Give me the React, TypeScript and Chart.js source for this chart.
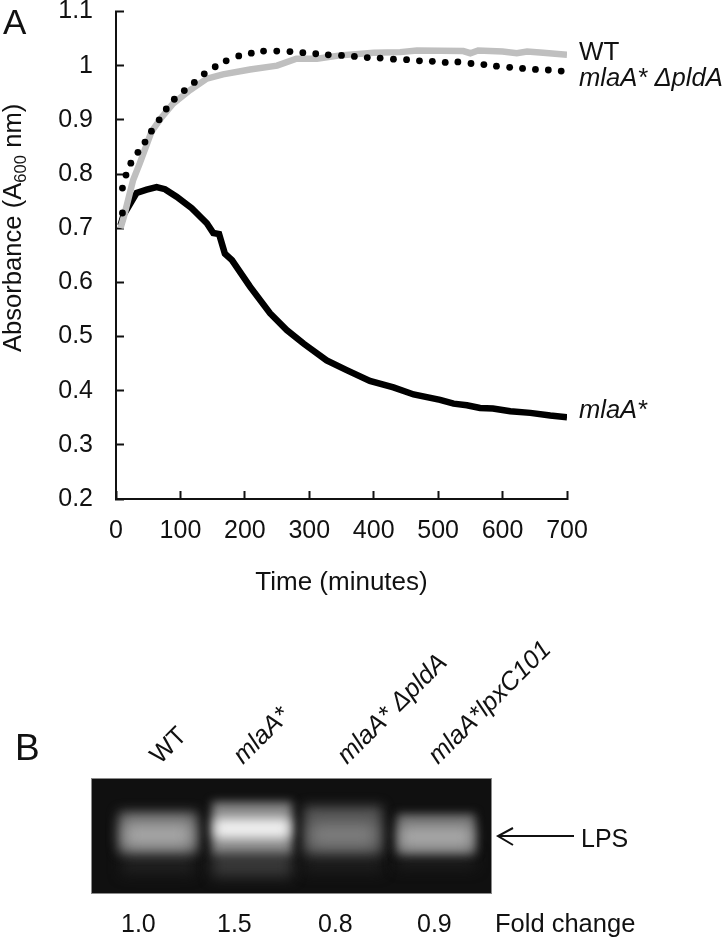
import React, { useEffect, useRef } from "react";
import { Chart, registerables } from "chart.js";

Chart.register(...registerables);

const FONT = '"Liberation Sans", Arial, sans-serif';

const wtTimes = [7, 12, 26.6, 37, 55, 71, 88.5, 115, 141, 166, 208, 250, 280, 312, 348, 400, 441, 467, 539, 550, 562, 600, 622, 638, 663, 700];
const wtValues = [0.7, 0.72, 0.789, 0.82, 0.878, 0.905, 0.93, 0.955, 0.976, 0.984, 0.993, 1.0, 1.013, 1.013, 1.019, 1.024, 1.025, 1.028, 1.027, 1.023, 1.028, 1.026, 1.023, 1.026, 1.024, 1.02];

const mlaTimes = [7, 12, 19, 32, 47.6, 63, 76, 94, 117.5, 141, 151, 160, 169, 180, 208, 239, 265, 291, 327, 358, 394, 430.6, 462, 503, 524, 544.6, 565, 585, 612, 643, 674, 700];
const mlaValues = [0.705, 0.725, 0.739, 0.765, 0.771, 0.776, 0.772, 0.758, 0.737, 0.709, 0.691, 0.689, 0.653, 0.641, 0.592, 0.543, 0.512, 0.487, 0.456, 0.438, 0.418, 0.406, 0.393, 0.383, 0.376, 0.373, 0.368, 0.367, 0.362, 0.359, 0.354, 0.351];

const pldTimes = [10, 10, 15.5, 23, 34, 45, 55, 67, 78, 90.5, 106, 121.6, 137, 154, 171, 190.5, 210, 229, 249.5, 270, 290, 310, 329.5, 350, 370, 390, 410, 430.6, 451, 471, 491, 511, 530.6, 551, 571, 590.5, 611, 631, 651, 671, 691];
const pldValues = [0.728, 0.774, 0.798, 0.82, 0.84, 0.859, 0.879, 0.9, 0.92, 0.938, 0.954, 0.969, 0.985, 0.998, 1.009, 1.018, 1.023, 1.027, 1.027, 1.026, 1.024, 1.022, 1.02, 1.019, 1.017, 1.015, 1.014, 1.012, 1.011, 1.009, 1.008, 1.006, 1.007, 1.004, 1.002, 0.999, 0.997, 0.995, 0.993, 0.992, 0.99];

const laneNames = ["WT", "mlaA*", "mlaA* ΔpldA", "mlaA*lpxC101"];
const foldChanges = ["1.0", "1.5", "0.8", "0.9"];

type Run = { t: string; i?: boolean; sub?: boolean };

function drawRuns(ctx: CanvasRenderingContext2D, x: number, y: number, runs: Run[], size: number, angle = 0) {
  ctx.save();
  ctx.translate(x, y);
  ctx.rotate(angle);
  ctx.fillStyle = "#111";
  ctx.textBaseline = "alphabetic";
  ctx.textAlign = "left";
  let cx = 0;
  for (const r of runs) {
    const s = r.sub ? size * 0.65 : size;
    ctx.font = `${r.i ? "italic " : ""}${s}px ${FONT}`;
    ctx.fillText(r.t, cx, r.sub ? size * 0.2 : 0);
    cx += ctx.measureText(r.t).width;
  }
  ctx.restore();
}

function blurRect(ctx: CanvasRenderingContext2D, x: number, y: number, w: number, h: number, c: string, blur: number) {
  ctx.filter = `blur(${blur}px)`;
  ctx.fillStyle = c;
  ctx.fillRect(x, y, w, h);
}

const gelPlugin = {
  id: "gel",
  afterDraw(chart: any) {
    const ctx: CanvasRenderingContext2D = chart.ctx;
    ctx.save();
    ctx.beginPath();
    ctx.rect(92, 779, 399, 114);
    ctx.clip();
    ctx.fillStyle = "#101010";
    ctx.fillRect(92, 779, 399, 114);
    // smear below the bands
    blurRect(ctx, 122, 852, 72, 22, "#202020", 7);
    blurRect(ctx, 212, 850, 80, 27, "#383838", 7);
    blurRect(ctx, 304, 852, 78, 20, "#1e1e1e", 7);
    blurRect(ctx, 397, 852, 78, 16, "#1e1e1e", 7);
    // lane 1
    blurRect(ctx, 119, 812, 78, 41, "#6c6c6c", 6);
    blurRect(ctx, 124, 823, 68, 24, "#a8a8a8", 8);
    // lane 2
    blurRect(ctx, 212, 802, 80, 52, "#858585", 5);
    blurRect(ctx, 214, 818, 76, 21, "#f0f0f0", 6);
    // lane 3
    blurRect(ctx, 304, 806, 78, 48, "#525252", 6);
    blurRect(ctx, 310, 823, 66, 24, "#7e7e7e", 8);
    // lane 4
    blurRect(ctx, 397, 814, 78, 40, "#6c6c6c", 5);
    blurRect(ctx, 400, 825, 72, 24, "#a6a6a6", 7);
    ctx.filter = "none";
    ctx.restore();

    ctx.strokeStyle = "#8a8a8a";
    ctx.lineWidth = 1;
    ctx.strokeRect(91.5, 778.5, 400, 115);

    const s = 25.5;
    const r45 = -Math.PI / 4;
    drawRuns(ctx, 3, 33.5, [{ t: "A" }], 35);
    drawRuns(ctx, 15, 760, [{ t: "B" }], 37);
    drawRuns(ctx, 20.7, 352, [{ t: "Absorbance (A" }, { t: "600", sub: true }, { t: " nm)" }], 25.6, -Math.PI / 2);
    drawRuns(ctx, 579, 60, [{ t: "WT" }], 26);
    drawRuns(ctx, 579, 86, [{ t: "mlaA* ΔpldA", i: true }], 25.6);
    drawRuns(ctx, 579, 418, [{ t: "mlaA*", i: true }], s);
    drawRuns(ctx, 160, 765, [{ t: laneNames[0] }], s, r45);
    drawRuns(ctx, 243, 765, [{ t: laneNames[1], i: true }], s, r45);
    drawRuns(ctx, 347, 765, [{ t: laneNames[2], i: true }], s, r45);
    drawRuns(ctx, 438, 765, [{ t: laneNames[3], i: true }], s, r45);
    const fx = [121, 217, 318, 417];
    foldChanges.forEach((f, i) => drawRuns(ctx, fx[i], 932, [{ t: f }], 25));
    drawRuns(ctx, 495, 932, [{ t: "Fold change" }], s);
    drawRuns(ctx, 581, 847, [{ t: "LPS" }], 25);

    ctx.strokeStyle = "#111";
    ctx.lineWidth = 2;
    ctx.beginPath();
    ctx.moveTo(498, 836);
    ctx.lineTo(574, 836);
    ctx.moveTo(513, 828);
    ctx.lineTo(498, 836);
    ctx.lineTo(513, 845);
    ctx.stroke();
  },
};

export default function App() {
  const ref = useRef<HTMLCanvasElement | null>(null);
  useEffect(() => {
    const zip = (xs: number[], ys: number[]) => xs.map((x, i) => ({ x, y: ys[i] }));
    const chart = new Chart(ref.current!, {
      type: "scatter",
      data: {
        datasets: [
          { label: "mlaA*", data: zip(mlaTimes, mlaValues), showLine: true, borderColor: "#000", borderWidth: 6.5, pointRadius: 0, order: 3 },
          { label: "WT", data: zip(wtTimes, wtValues), showLine: true, borderColor: "#bfbfbf", borderWidth: 6.5, pointRadius: 0, order: 2 },
          { label: "mlaA* ΔpldA", data: zip(pldTimes, pldValues), showLine: false, backgroundColor: "#000", borderColor: "#000", pointRadius: 3.4, pointBorderWidth: 0, order: 1 },
        ],
      },
      options: {
        animation: false,
        responsive: false,
        layout: { autoPadding: false, padding: { top: 11.5, right: 157, left: 0, bottom: 0 } },
        plugins: { legend: { display: false }, tooltip: { enabled: false } },
        scales: {
          x: {
            type: "linear",
            min: 0,
            max: 700,
            afterFit(s: any) { s.height = 441; s.paddingLeft = 0; s.paddingRight = 0; },
            title: { display: true, text: "Time (minutes)", color: "#111", font: { family: FONT, size: 26 }, padding: { top: 0, bottom: 342 } },
            border: { color: "#111", width: 2 },
            grid: { drawOnChartArea: false, tickLength: -8, tickColor: "#111", tickWidth: 2 },
            ticks: { stepSize: 100, maxRotation: 0, autoSkip: false, padding: 25, color: "#111", font: { family: FONT, size: 25 } },
          },
          y: {
            min: 0.2,
            max: 1.1,
            afterFit(s: any) { s.width = 116; s.paddingTop = 0; s.paddingBottom = 0; },
            border: { color: "#111", width: 2 },
            grid: { drawOnChartArea: false, tickLength: -8, tickColor: "#111", tickWidth: 2 },
            ticks: {
              stepSize: 0.1,
              padding: 31,
              autoSkip: false,
              color: "#111",
              font: { family: FONT, size: 25 },
              callback: (v: any) => String(+Number(v).toFixed(1)),
            },
          },
        },
      },
      plugins: [gelPlugin],
    } as any);
    return () => chart.destroy();
  }, []);
  return (
    <div style={{ position: "absolute", left: 0, top: 0, width: 724, height: 940, background: "#fff" }}>
      <canvas ref={ref} width={724} height={940} style={{ display: "block" }} />
    </div>
  );
}
